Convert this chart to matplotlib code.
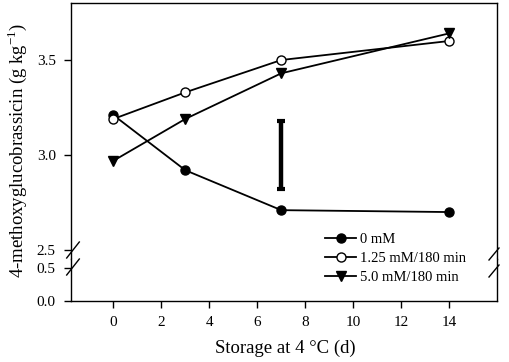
import matplotlib
matplotlib.use("Agg")
import matplotlib.pyplot as plt
from matplotlib.lines import Line2D

plt.rcParams["font.family"] = ["Liberation Serif", "DejaVu Serif"]
plt.rcParams["mathtext.fontset"] = "custom"
plt.rcParams["mathtext.rm"] = "Liberation Serif"

# --- data ---
days = [0, 3, 7, 14]
mm_0 = [3.21, 2.92, 2.71, 2.70]
mm_125 = [3.19, 3.33, 3.50, 3.60]
mm_50 = [2.97, 3.19, 3.43, 3.64]
labels = ["0 mM", "1.25 mM/180 min", "5.0 mM/180 min"]

lsd_x = [7]
lsd_y = [3.0]
lsd_err = [0.18]

x_ticks = [0, 2, 4, 6, 8, 10, 12, 14]
y_ticks_top = [2.5, 3.0, 3.5]
y_ticks_low = [0.0, 0.5]

W, H = 510, 362
fig = plt.figure(figsize=(W / 100, H / 100), dpi=100)

left, right = 71 / W, 497 / W
top, bot, split = 1 - 3 / H, 1 - 301 / H, 1 - 259 / H

ax = fig.add_axes([left, split, right - left, top - split])
ax_lo = fig.add_axes([left, bot, right - left, split - bot])

xlim = (-1.77, 16)
for a in (ax, ax_lo):
    a.set_xlim(*xlim)
    for s in a.spines.values():
        s.set_linewidth(1.0)
    a.tick_params(direction="out", length=5, width=1, labelsize=11, pad=6,
                  right=False, top=False)

ax.set_ylim(2.453, 3.8)
ax_lo.set_ylim(0, 0.636)
ax.spines["bottom"].set_visible(False)
ax_lo.spines["top"].set_visible(False)
ax.set_xticks([])
ax.set_yticks(y_ticks_top)
ax.set_yticklabels([f"{v:.1f}" for v in y_ticks_top])
ax_lo.set_yticks(y_ticks_low)
ax_lo.set_yticklabels([f"{v:.1f}" for v in y_ticks_low])
ax_lo.set_xticks(x_ticks)
ax_lo.tick_params(axis="x", pad=6)

kw = dict(color="black", lw=1.3, ms=6.5, mec="black", clip_on=False, zorder=3)
h1, = ax.plot(days, mm_0, marker="o", mfc="black", label=labels[0], **kw)
h2, = ax.plot(days, mm_125, marker="o", mfc="white", label=labels[1], **kw)
h3, = ax.plot(days, mm_50, marker="v", mfc="black", label=labels[2], **kw)

ax.errorbar(lsd_x, lsd_y, yerr=lsd_err, fmt="none", ecolor="black",
            elinewidth=3.2, capsize=3, capthick=3)

fig.legend(handles=[h1, h2, h3], loc="center left",
           bbox_to_anchor=(318 / W, 1 - 258.5 / H), frameon=False,
           fontsize=10.5, handlelength=2.1, handletextpad=0.3,
           labelspacing=0.38, borderpad=0)

# axis break marks
def brk(cx, cy, dx, dy):
    fig.add_artist(Line2D([(cx - dx) / W, (cx + dx) / W],
                          [1 - (cy + dy) / H, 1 - (cy - dy) / H],
                          color="black", lw=1.0))

brk(73, 250, 6.3, 8)
brk(73, 267, 6.3, 8)
brk(494, 254, 5, 6)
brk(494, 271, 5, 6)

fig.text(17 / W, 1 - 150 / H, "4-methoxyglucobrassicin (g kg$^{\\mathregular{-1}}$)",
         rotation=90, ha="center", va="center", fontsize=13.5)
fig.text(285 / W, 1 - 348 / H, "Storage at 4 \u00b0C (d)",
         ha="center", va="center", fontsize=13.5)

fig.savefig("out.png", dpi=100)
